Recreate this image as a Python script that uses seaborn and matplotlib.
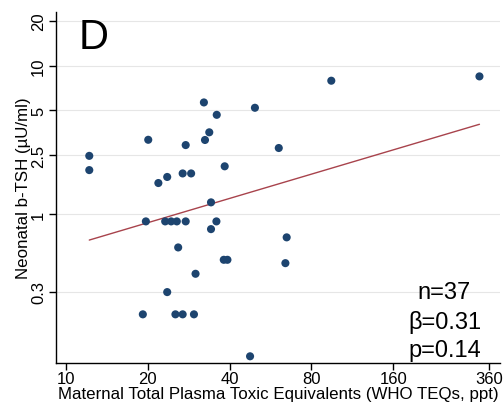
import numpy as np
import pandas as pd
import seaborn as sns
import matplotlib.pyplot as plt
from matplotlib.ticker import FixedLocator, NullLocator

# Maternal TEQ (ppt) vs neonatal b-TSH (uU/ml)
teq = [12.2, 12.2, 20.1, 21.9, 23.6, 26.9, 28.9, 27.6, 32.2, 35.9,
       33.7, 32.5, 38.4, 49.6, 60.7, 94.7, 332.0, 34.2, 19.7, 23.2,
       24.4, 25.6, 27.6, 35.8, 34.2, 64.9, 25.9, 38.1, 39.3, 64.2,
       30.0, 23.6, 19.2, 25.3, 26.9, 29.6, 47.6]
tsh = [2.47, 1.98, 3.17, 1.62, 1.78, 1.88, 1.88, 2.92, 5.66, 4.67,
       3.56, 3.16, 2.10, 5.21, 2.79, 7.93, 8.48, 1.20, 0.893, 0.893,
       0.893, 0.893, 0.893, 0.893, 0.792, 0.697, 0.596, 0.492, 0.492, 0.467,
       0.396, 0.298, 0.211, 0.211, 0.211, 0.211, 0.110]

# fitted line in log10-log10 space
fit_intercept = -0.766
fit_slope = 0.544

x_ticks = [10, 20, 40, 80, 160, 360]
y_ticks = [0.3, 1, 2.5, 5, 10, 20]
y_tick_labels = ['0.3', '1', '2.5', '5', '10', '20']
stats_text = "n=37\nβ=0.31\np=0.14"

df = pd.DataFrame({'teq': teq, 'tsh': tsh})

sns.set_theme(style='ticks')
plt.rcParams['font.family'] = ['Liberation Sans', 'DejaVu Sans']
plt.rcParams['text.color'] = 'black'
plt.rcParams['axes.labelcolor'] = 'black'
plt.rcParams['xtick.color'] = 'black'
plt.rcParams['ytick.color'] = 'black'

fig = plt.figure(figsize=(5.04, 4.10), dpi=100)
ax = fig.add_axes([0.111, 0.112, 0.881, 0.856])

ax.set_xscale('log')
ax.set_yscale('log')

# regression line over the data range
xs = np.array([df.teq.min(), df.teq.max()])
ys = 10 ** (fit_intercept + fit_slope * np.log10(xs))
sns.lineplot(x=xs, y=ys, ax=ax, color='#a8434c', linewidth=1.0)

sns.scatterplot(data=df, x='teq', y='tsh', ax=ax, color='#1d446f',
                s=34, edgecolor='none', zorder=3)

ax.set_xlim(9.2, 395)
ax.set_ylim(0.099, 23)

ax.xaxis.set_major_locator(FixedLocator(x_ticks))
ax.xaxis.set_minor_locator(NullLocator())
ax.set_xticklabels([str(t) for t in x_ticks])
ax.yaxis.set_major_locator(FixedLocator(y_ticks))
ax.yaxis.set_minor_locator(NullLocator())
ax.set_yticklabels(y_tick_labels, rotation=90, va='center')

ax.tick_params(axis='both', labelsize=12, length=5, width=1, pad=2)
ax.tick_params(axis='x', pad=0.5)
ax.grid(axis='y', color='#e6e6e6', linewidth=0.8)
ax.set_axisbelow(True)
sns.despine(ax=ax)
for s in ['left', 'bottom']:
    ax.spines[s].set_color('black')
    ax.spines[s].set_linewidth(1)

ax.set_xlabel('Maternal Total Plasma Toxic Equivalents (WHO TEQs, ppt)', fontsize=12.2, labelpad=0)
ax.set_ylabel('Neonatal b-TSH (µU/ml)', fontsize=12.2, labelpad=0)

ax.text(0.05, 0.985, 'D', transform=ax.transAxes, fontsize=30, va='top', ha='left')
ax.text(0.875, 0.005, stats_text, transform=ax.transAxes, fontsize=17,
        ha='center', va='bottom', linespacing=1.38)

fig.savefig('out.png', dpi=100)
